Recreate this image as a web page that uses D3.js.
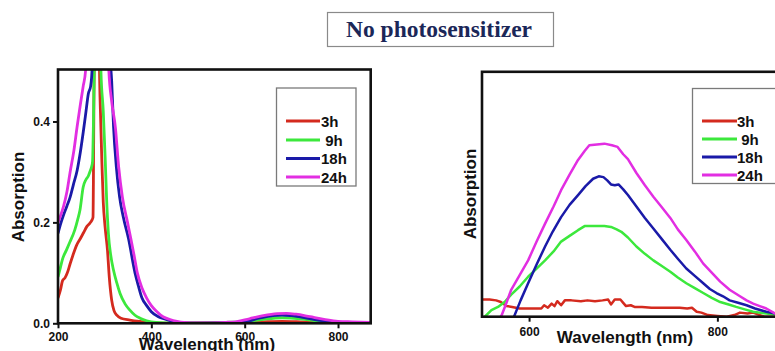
<!DOCTYPE html>
<html>
<head>
<meta charset="utf-8">
<script src="https://cdn.jsdelivr.net/npm/d3@7"></script>
<style>
  html, body { margin: 0; padding: 0; background: #fff; }
  svg { display: block; }
  text { font-family: "Liberation Sans", Arial, sans-serif; font-weight: bold; fill: #111; }
  .title { font-family: "Liberation Serif", "Times New Roman", serif; fill: #1b2758; }
  .leg { white-space: pre; }
</style>
</head>
<body>
<svg id="chart" width="775" height="351"></svg>
<script>
// Series labels and colours
const seriesNames = ["3h", " 9h", "18h", "24h"];
const seriesColors = ["#d42a1e", "#3ce83c", "#1a1aa8", "#e22ee2"];

// Full spectrum panel (wavelength nm, absorption)
const fullWl3h  = [200,205,210,215,220,226,232,240,248,255,262,268,273,275,276,277,279,283,287,290,294,297,301,306,310,315,320,326,335,354,382,400,450,520,560,600,640,680,720,760,800,870];
const fullAbs3h = [0.050,0.065,0.085,0.090,0.100,0.118,0.135,0.155,0.168,0.180,0.192,0.198,0.205,0.210,0.300,0.450,0.560,0.620,0.580,0.450,0.320,0.240,0.190,0.145,0.090,0.046,0.025,0.016,0.010,0.0065,0.003,0.001,0.0005,0.001,0.002,0.0015,0.003,0.004,0.003,0.0015,0.0005,0.0];

const fullWl9h  = [200,205,210,218,225,236,242,247,254,260,265,269,272,274,276,278,283,290,292,297,301,304,308,313,319,326,333,344,354,365,376,390,410,450,520,560,600,640,680,720,760,800,870];
const fullAbs9h = [0.092,0.110,0.128,0.145,0.160,0.185,0.205,0.224,0.270,0.285,0.292,0.302,0.310,0.320,0.400,0.520,0.620,0.580,0.500,0.420,0.330,0.250,0.178,0.135,0.105,0.080,0.059,0.038,0.026,0.016,0.010,0.005,0.002,0.001,0.001,0.002,0.003,0.008,0.011,0.009,0.004,0.001,0.0];

const fullWl18h  = [200,205,212,219,226,233,241,248,255,260,265,270,272,274,278,285,295,305,311,315,319,325,332,340,351,365,372,380,390,400,415,430,450,462,500,560,600,630,660,680,700,730,760,790,810,870];
const fullAbs18h = [0.178,0.195,0.215,0.232,0.250,0.275,0.303,0.340,0.385,0.420,0.455,0.470,0.487,0.520,0.600,0.660,0.640,0.600,0.530,0.480,0.390,0.310,0.250,0.210,0.168,0.100,0.075,0.050,0.035,0.023,0.013,0.008,0.003,0.001,0.0005,0.001,0.003,0.010,0.015,0.0164,0.015,0.011,0.006,0.002,0.0005,0.0];

const fullWl24h  = [200,205,212,219,226,234,241,248,254,259,262,268,280,295,305,309,315,323,330,338,349,356,363,370,380,390,400,411,425,440,455,470,500,560,580,610,640,670,690,710,740,770,800,830,870];
const fullAbs24h = [0.200,0.212,0.232,0.260,0.300,0.342,0.390,0.434,0.470,0.500,0.550,0.620,0.680,0.670,0.600,0.500,0.440,0.388,0.310,0.250,0.200,0.168,0.135,0.100,0.070,0.050,0.035,0.024,0.013,0.0075,0.004,0.002,0.001,0.002,0.003,0.009,0.015,0.019,0.0198,0.018,0.013,0.008,0.004,0.003,0.002];

// Visible-band panel (wavelength nm, absorption)
const visWl3h  = [550,558,565,570,576,582,590,600,608,613,616,620,624,627,630,634,638,645,655,662,670,678,684,687,691,697,700,703,708,712,720,730,740,750,760,768,773,778,783,790,800,810,818,824,832,838,845,850,880];
const visAbs3h = [0.0021,0.0021,0.0020,0.0018,0.0013,0.0012,0.0010,0.0010,0.0010,0.0010,0.0014,0.0011,0.0016,0.0013,0.0019,0.0014,0.0020,0.0020,0.0019,0.0020,0.0019,0.0020,0.0021,0.0015,0.0021,0.0021,0.0017,0.0013,0.0014,0.0012,0.0012,0.0011,0.0011,0.0011,0.0011,0.0010,0.0011,0.0006,0.0005,0.0002,0.0001,0.0,0.0002,0.0005,0.0004,0.0005,0.0002,0.0,0.0];

const visWl9h  = [553,560,567,574,581,590,599,608,617,626,634,643,652,659,665,672,680,687,693,698,705,714,723,732,741,750,758,767,776,785,794,803,812,820,829,838,852,865,880];
const visAbs9h = [0.0,0.0008,0.0012,0.0018,0.0027,0.0037,0.0049,0.0059,0.0069,0.0080,0.0092,0.0099,0.0106,0.0111,0.0111,0.0111,0.0111,0.0110,0.0107,0.0104,0.0097,0.0086,0.0077,0.0069,0.0062,0.0055,0.0048,0.0041,0.0035,0.0029,0.0023,0.0018,0.0015,0.0012,0.0009,0.0006,0.0004,0.0002,0.0001];

const visWl18h  = [580,584,591,599,608,617,625,634,643,652,660,668,674,679,683,687,691,695,700,705,714,723,732,741,750,758,767,776,785,792,799,806,813,822,831,840,852,865,880];
const visAbs18h = [-0.0006,0.0,0.0020,0.0041,0.0064,0.0086,0.0104,0.0122,0.0137,0.0149,0.0160,0.0169,0.0172,0.0171,0.0167,0.0162,0.0161,0.0162,0.0156,0.0149,0.0135,0.0121,0.0108,0.0095,0.0082,0.0071,0.0059,0.0050,0.0041,0.0034,0.0029,0.0025,0.0020,0.0017,0.0014,0.0010,0.0006,0.0003,0.0001];

const visWl24h  = [568,571,576,581,590,599,608,617,626,634,643,652,659,664,672,680,688,694,700,705,714,723,732,741,750,758,767,776,785,794,803,813,824,831,838,845,852,861,870,880];
const visAbs24h = [-0.0003,0.0002,0.0017,0.0033,0.0051,0.0069,0.0092,0.0114,0.0135,0.0155,0.0174,0.0192,0.0203,0.0210,0.0211,0.0212,0.0210,0.0208,0.0199,0.0193,0.0176,0.0161,0.0147,0.0134,0.0121,0.0107,0.0094,0.0080,0.0065,0.0054,0.0043,0.0033,0.0025,0.0020,0.0016,0.0013,0.0010,0.0004,0.0002,0.0];

// Tick values
const fullXTicks = [200, 400, 600, 800];
const fullYTicks = [0.0, 0.2, 0.4];
const visXTicks = [600, 800];

const titleText = "No photosensitizer";
const xTitle = "Wavelength (nm)";
const yTitle = "Absorption";

const svg = d3.select("#chart");

function zipSeries(wls, vals) {
  return wls.map((w, i) => ({ w: w, v: vals[i] }));
}

// Title box
const titleG = svg.append("g");
titleG.append("rect")
  .attr("x", 327.5).attr("y", 12.5).attr("width", 226).attr("height", 34)
  .attr("fill", "#fff").attr("stroke", "#8a8a8a").attr("stroke-width", 1.2);
titleG.append("text").attr("class", "title")
  .attr("x", 439).attr("y", 37).attr("text-anchor", "middle")
  .attr("font-size", 23.5).text(titleText);

function drawPanel(cfg) {
  const g = svg.append("g");
  const x = d3.scaleLinear().domain(cfg.xDomain).range([cfg.left, cfg.right]);
  const y = d3.scaleLinear().domain(cfg.yDomain).range([cfg.bottom, cfg.top]);

  const clipId = "clip-" + cfg.id;
  svg.append("clipPath").attr("id", clipId)
    .append("rect").attr("x", cfg.left).attr("y", cfg.top)
    .attr("width", cfg.right - cfg.left).attr("height", cfg.bottom - cfg.top);

  const line = d3.line().x(d => x(d.w)).y(d => y(d.v)).curve(cfg.curve);
  const curves = g.append("g").attr("clip-path", `url(#${clipId})`);
  cfg.series.forEach((s, i) => {
    curves.append("path").datum(s)
      .attr("fill", "none").attr("stroke", seriesColors[i])
      .attr("stroke-width", cfg.lineWidth).attr("stroke-linejoin", "round")
      .attr("d", line);
  });

  // Axes with outward ticks
  const xAxis = d3.axisBottom(x).tickValues(cfg.xTicks).tickSize(5).tickFormat(d3.format("d"));
  const xg = g.append("g").attr("transform", `translate(0,${cfg.bottom})`).call(xAxis);
  xg.select(".domain").remove();
  xg.selectAll(".tick line").attr("stroke", "#111").attr("stroke-width", 2);
  xg.selectAll(".tick text").attr("font-size", 12).attr("dy", cfg.xTickDy).attr("fill", "#111")
    .style("font-family", "'Liberation Sans', Arial, sans-serif").style("font-weight", "bold");

  if (cfg.yTicks) {
    const yAxis = d3.axisLeft(y).tickValues(cfg.yTicks).tickSize(5).tickFormat(d3.format(".1f"));
    const yg = g.append("g").attr("transform", `translate(${cfg.left},0)`).call(yAxis);
    yg.select(".domain").remove();
    yg.selectAll(".tick line").attr("stroke", "#111").attr("stroke-width", 2);
    yg.selectAll(".tick text").attr("font-size", 12).attr("fill", "#111").attr("x", -8)
      .style("font-family", "'Liberation Sans', Arial, sans-serif").style("font-weight", "bold");
  }

  // Frame
  g.append("rect")
    .attr("x", cfg.left).attr("y", cfg.top)
    .attr("width", cfg.right - cfg.left).attr("height", cfg.bottom - cfg.top)
    .attr("fill", "none").attr("stroke", "#111").attr("stroke-width", 2.6);

  // Axis titles
  g.append("text").attr("x", cfg.xTitleX).attr("y", cfg.xTitleY)
    .attr("text-anchor", "middle").attr("font-size", 17).text(xTitle);
  g.append("text")
    .attr("transform", `translate(${cfg.yTitleX},${cfg.yTitleY}) rotate(-90)`)
    .attr("text-anchor", "middle").attr("font-size", 17).text(yTitle);

  // Legend
  const L = cfg.legend;
  g.append("rect").attr("x", L.x).attr("y", L.y).attr("width", L.w).attr("height", L.h)
    .attr("fill", "#fff").attr("stroke", "#7a7a7a").attr("stroke-width", 1.3);
  seriesNames.forEach((name, i) => {
    const ry = L.rows[i];
    g.append("line").attr("x1", L.lx1).attr("x2", L.lx2).attr("y1", ry).attr("y2", ry)
      .attr("stroke", seriesColors[i]).attr("stroke-width", 3);
    g.append("text").attr("class", "leg").attr("x", L.tx).attr("y", ry + 5.5)
      .attr("font-size", 15).text(name);
  });
}

drawPanel({
  id: "full",
  xDomain: [200, 870], yDomain: [0, 0.503],
  left: 58, right: 370.7, top: 69.5, bottom: 323.3,
  curve: d3.curveMonotoneX, lineWidth: 2.8,
  series: [zipSeries(fullWl3h, fullAbs3h), zipSeries(fullWl9h, fullAbs9h),
           zipSeries(fullWl18h, fullAbs18h), zipSeries(fullWl24h, fullAbs24h)],
  xTicks: fullXTicks, yTicks: fullYTicks, xTickDy: "0.85em",
  xTitleX: 207, xTitleY: 349.5, yTitleX: 24, yTitleY: 197,
  legend: { x: 276.5, y: 88, w: 79.5, h: 98, lx1: 286, lx2: 320, tx: 321,
            rows: [121, 140, 158.5, 177] }
});

drawPanel({
  id: "vis",
  xDomain: [550, 880], yDomain: [0, 0.03],
  left: 482, right: 482 + 330 * 0.9415, top: 71.8, bottom: 316.7,
  curve: d3.curveLinear, lineWidth: 2.5,
  series: [zipSeries(visWl3h, visAbs3h), zipSeries(visWl9h, visAbs9h),
           zipSeries(visWl18h, visAbs18h), zipSeries(visWl24h, visAbs24h)],
  xTicks: visXTicks, yTicks: null, xTickDy: "0.95em",
  xTitleX: 625, xTitleY: 342.5, yTitleX: 476, yTitleY: 194,
  legend: { x: 692.5, y: 88.5, w: 100, h: 95, lx1: 702, lx2: 737, tx: 737,
            rows: [121, 139, 157, 175] }
});
</script>
</body>
</html>
